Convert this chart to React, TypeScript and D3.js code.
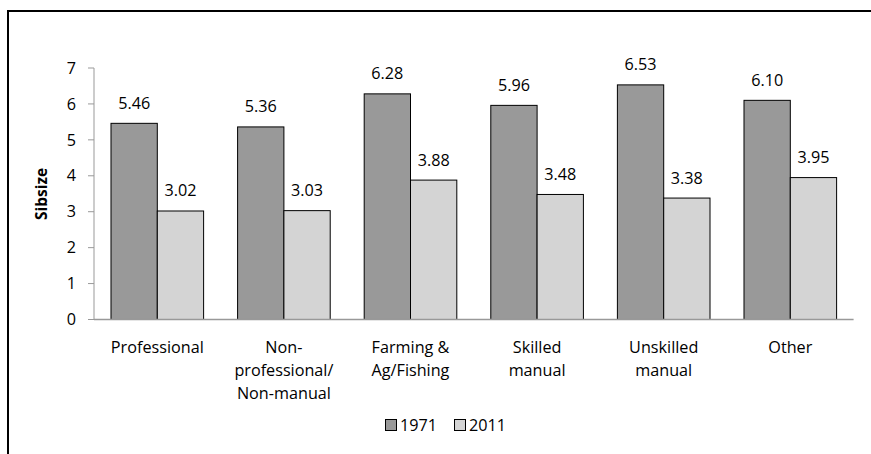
import React from "react";
import * as d3 from "d3";

const categories: string[][] = [
  ["Professional"],
  ["Non-", "professional/", "Non-manual"],
  ["Farming &", "Ag/Fishing"],
  ["Skilled", "manual"],
  ["Unskilled", "manual"],
  ["Other"],
];
const series = ["1971", "2011"];
const values1971 = [5.46, 5.36, 6.28, 5.96, 6.53, 6.1];
const values2011 = [3.02, 3.03, 3.88, 3.48, 3.38, 3.95];
const yTicks = [0, 1, 2, 3, 4, 5, 6, 7];
const colors = ["#999999", "#d4d4d4"];

const FONT = "'Open Sans', sans-serif";
const FS = 16.2;

export default function App() {
  const W = 871, H = 454;
  const x0 = 94, x1 = 853.6;
  const yTop = 68, yBot = 319.5;
  const keys = categories.map((_, i) => String(i));
  const x = d3.scaleBand<string>().domain(keys).range([x0, x1]).paddingInner(0).paddingOuter(0);
  const bw = x.bandwidth();
  const inner = d3.scaleBand<string>().domain(series).range([0, bw]).paddingOuter(0.367).paddingInner(0);
  const y = d3.scaleLinear().domain([0, 7]).range([yBot, yTop]);
  const data = [values1971, values2011];

  return (
    <svg width={W} height={H} style={{ position: "absolute", left: 0, top: 0, background: "#fff" }}
      fontFamily={FONT}>
      <rect x={8} y={11} width={W + 20} height={H + 20} fill="none" stroke="#000" strokeWidth={2} />
      {/* y axis */}
      <line x1={x0} x2={x0} y1={y(7)} y2={y(0)} stroke="#999" strokeWidth={1} />
      {yTicks.map((t) => (
        <g key={t}>
          <line x1={x0 - 6} x2={x0} y1={y(t)} y2={y(t)} stroke="#999" strokeWidth={1} />
          <text x={76} y={y(t)} dy="0.35em" textAnchor="end" fontSize={FS} fill="#000">{t}</text>
        </g>
      ))}
      <text transform={`translate(47,194) rotate(-90)`} textAnchor="middle" fontSize={15.5}
        fontWeight="bold" fill="#000">Sibsize</text>
      {/* bars */}
      {data.map((vals, s) =>
        vals.map((v, i) => {
          const bx = (x(String(i)) as number) + (inner(series[s]) as number);
          const w = inner.bandwidth();
          return (
            <g key={`${s}-${i}`}>
              <rect x={bx} y={y(v)} width={w} height={y(0) - y(v)} fill={colors[s]} stroke="#000" strokeWidth={1} />
              <text x={bx + w / 2} y={y(v) - 14.5} textAnchor="middle" fontSize={FS} fill="#000">
                {v.toFixed(2)}
              </text>
            </g>
          );
        })
      )}
      {/* x axis */}
      <line x1={x0} x2={x1} y1={y(0)} y2={y(0)} stroke="#999" strokeWidth={1.5} />
      {categories.map((lines, i) => (
        <text key={i} x={(x(String(i)) as number) + bw / 2} y={352.5} textAnchor="middle" fontSize={FS} fill="#000">
          {lines.map((l, j) => (
            <tspan key={j} x={(x(String(i)) as number) + bw / 2} dy={j === 0 ? 0 : 23.2}>{l}</tspan>
          ))}
        </text>
      ))}
      {/* legend */}
      {series.map((s, k) => {
        const lx = k === 0 ? 385 : 454;
        return (
          <g key={s}>
            <rect x={lx + 0.5} y={419.5} width={11} height={11} fill={colors[k]} stroke="#000" strokeWidth={1} />
            <text x={lx + 15} y={425} dy="0.35em" fontSize={FS} fill="#000">{s}</text>
          </g>
        );
      })}
    </svg>
  );
}
